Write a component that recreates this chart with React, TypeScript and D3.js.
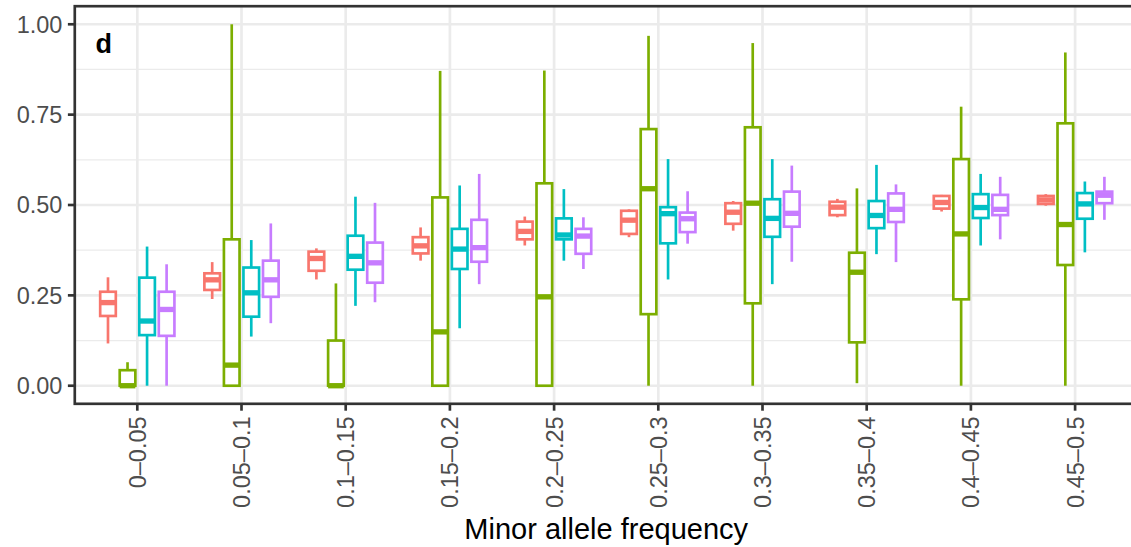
import React from "react";
import * as d3 from "d3";

const categories = ["0–0.05", "0.05–0.1", "0.1–0.15", "0.15–0.2", "0.2–0.25", "0.25–0.3", "0.3–0.35", "0.35–0.4", "0.4–0.45", "0.45–0.5"];
const seriesNames = ["A", "B", "C", "D"];
const seriesColors = ["#F8766D", "#7CAE00", "#00BFC4", "#C77CFF"];
const yTicks = [0, 0.25, 0.5, 0.75, 1];
const yMinor = [0.125, 0.375, 0.625, 0.875];

// [whiskerLow, q1, median, q3, whiskerHigh] per category
const seriesA = [
  [0.117, 0.193, 0.230, 0.260, 0.300],
  [0.240, 0.265, 0.293, 0.311, 0.342],
  [0.294, 0.318, 0.352, 0.371, 0.380],
  [0.346, 0.366, 0.387, 0.411, 0.438],
  [0.388, 0.405, 0.427, 0.454, 0.468],
  [0.411, 0.420, 0.458, 0.484, 0.488],
  [0.429, 0.448, 0.480, 0.505, 0.511],
  [0.466, 0.472, 0.494, 0.509, 0.517],
  [0.482, 0.490, 0.507, 0.525, 0.528],
  [0.498, 0.503, 0.514, 0.525, 0.530],
];
const seriesB = [
  [0.0, 0.0, 0.0, 0.043, 0.065],
  [0.0, 0.0, 0.057, 0.405, 1.0],
  [0.0, 0.0, 0.0, 0.125, 0.283],
  [0.0, 0.0, 0.149, 0.521, 0.871],
  [0.0, 0.0, 0.246, 0.560, 0.872],
  [0.0, 0.198, 0.545, 0.710, 0.968],
  [0.0, 0.228, 0.505, 0.715, 0.948],
  [0.007, 0.120, 0.314, 0.368, 0.546],
  [0.0, 0.239, 0.420, 0.627, 0.772],
  [0.0, 0.334, 0.446, 0.726, 0.922],
];
const seriesC = [
  [0.0, 0.140, 0.179, 0.299, 0.385],
  [0.136, 0.191, 0.257, 0.327, 0.403],
  [0.221, 0.321, 0.358, 0.415, 0.523],
  [0.159, 0.323, 0.378, 0.434, 0.554],
  [0.346, 0.405, 0.417, 0.463, 0.544],
  [0.294, 0.394, 0.476, 0.494, 0.627],
  [0.281, 0.412, 0.463, 0.516, 0.627],
  [0.364, 0.436, 0.471, 0.511, 0.611],
  [0.388, 0.464, 0.493, 0.530, 0.586],
  [0.369, 0.462, 0.503, 0.533, 0.565],
];
const seriesD = [
  [0.0, 0.138, 0.211, 0.260, 0.336],
  [0.173, 0.246, 0.293, 0.346, 0.449],
  [0.231, 0.285, 0.340, 0.396, 0.506],
  [0.281, 0.343, 0.382, 0.459, 0.586],
  [0.323, 0.365, 0.414, 0.434, 0.466],
  [0.393, 0.425, 0.462, 0.479, 0.538],
  [0.343, 0.440, 0.477, 0.537, 0.609],
  [0.342, 0.453, 0.488, 0.532, 0.557],
  [0.405, 0.472, 0.488, 0.528, 0.578],
  [0.459, 0.505, 0.527, 0.537, 0.578],
];
const allSeries = [seriesA, seriesB, seriesC, seriesD];

const W = 1131;
const H = 547;
const FONT = "'Liberation Sans', Arial, Helvetica, sans-serif";

export default function App() {
  const x = d3.scalePoint<string>().domain(categories).range([137.3, 1075.1]);
  const step = x.step();
  const panelLeft = x(categories[0])! - 0.6 * step;
  const panelRight = x(categories[categories.length - 1])! + 0.6 * step;
  const y = d3.scaleLinear().domain([-0.05, 1.05]).range([403.8, 6.2]);
  const panelTop = y(1.05);
  const panelBottom = y(-0.05);

  const dodge = 0.75 / seriesNames.length;
  const boxHalf = (0.6 / seriesNames.length / 2) * step;
  const lw = 2.67;
  const grid = "#EBEBEB";
  const dark = "#333333";
  const tickFont = 23.5;

  return (
    <svg width={W} height={H} style={{ position: "absolute", left: 0, top: 0, background: "#fff" }} fontFamily={FONT}>
      <rect x={0} y={0} width={W} height={H} fill="#fff" />
      {yMinor.map((v) => (
        <line key={"mn" + v} x1={panelLeft} x2={panelRight} y1={y(v)} y2={y(v)} stroke={grid} strokeWidth={1.33} />
      ))}
      {yTicks.map((v) => (
        <line key={"mj" + v} x1={panelLeft} x2={panelRight} y1={y(v)} y2={y(v)} stroke={grid} strokeWidth={lw} />
      ))}
      {categories.map((c) => (
        <line key={"vx" + c} x1={x(c)} x2={x(c)} y1={panelTop} y2={panelBottom} stroke={grid} strokeWidth={lw} />
      ))}
      {categories.map((c, ci) =>
        allSeries.map((s, si) => {
          const [lo, q1, med, q3, hi] = s[ci];
          const cx = x(c)! + (si - (seriesNames.length - 1) / 2) * dodge * step;
          const col = seriesColors[si];
          return (
            <g key={c + si}>
              <line x1={cx} x2={cx} y1={y(q3)} y2={y(hi)} stroke={col} strokeWidth={lw} />
              <line x1={cx} x2={cx} y1={y(q1)} y2={y(lo)} stroke={col} strokeWidth={lw} />
              <rect x={cx - boxHalf} y={y(q3)} width={2 * boxHalf} height={Math.max(0, y(q1) - y(q3))} fill="#fff" stroke={col} strokeWidth={lw} />
              <line x1={cx - boxHalf} x2={cx + boxHalf} y1={y(med)} y2={y(med)} stroke={col} strokeWidth={lw * 2} />
            </g>
          );
        })
      )}
      <rect x={panelLeft} y={panelTop} width={panelRight - panelLeft} height={panelBottom - panelTop} fill="none" stroke={dark} strokeWidth={lw} />
      {yTicks.map((v) => (
        <g key={"yt" + v}>
          <line x1={panelLeft - 6.9} x2={panelLeft} y1={y(v)} y2={y(v)} stroke={dark} strokeWidth={lw} />
          <text x={panelLeft - 12.4} y={y(v)} dy="0.36em" textAnchor="end" fontSize={tickFont} fill="#4D4D4D">
            {d3.format(".2f")(v)}
          </text>
        </g>
      ))}
      {categories.map((c) => (
        <g key={"xt" + c}>
          <line x1={x(c)} x2={x(c)} y1={panelBottom} y2={panelBottom + 6.9} stroke={dark} strokeWidth={lw} />
          <text transform={`translate(${x(c)},${panelBottom + 12.6}) rotate(-90)`} dy="0.36em" textAnchor="end" fontSize={tickFont} fill="#4D4D4D">
            {c}
          </text>
        </g>
      ))}
      <text x={(panelLeft + panelRight) / 2} y={539} textAnchor="middle" fontSize={29} fill="#000">
        Minor allele frequency
      </text>
      <text x={95.5} y={53} fontSize={27} fontWeight="bold" fill="#000">
        d
      </text>
    </svg>
  );
}
